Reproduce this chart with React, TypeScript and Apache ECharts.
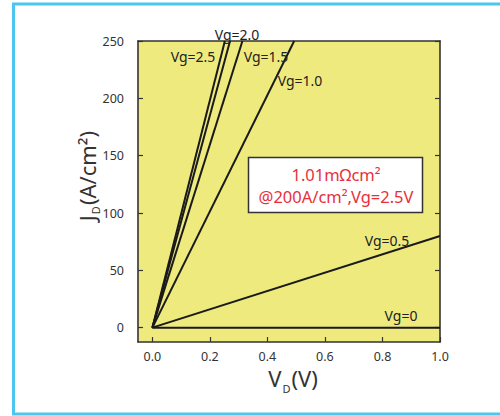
import React, { useEffect, useRef } from 'react';
import * as echarts from 'echarts';

// ---- data ----
const seriesNames = ['Vg=0', 'Vg=0.5', 'Vg=1.0', 'Vg=1.5', 'Vg=2.0', 'Vg=2.5'];
const vdStart = [0, 0, 0, 0, 0, 0];
const jdStart = [0, 0, 0, 0, 0, 0];
const vdEnd = [1.0, 1.0, 0.493, 0.313, 0.27, 0.252];
const jdEnd = [0, 80, 250, 250, 250, 250];
const xTicks = [0, 0.2, 0.4, 0.6, 0.8, 1.0];
const yTicks = [0, 50, 100, 150, 200, 250];
const annotationLines = ['1.01mΩcm²', '@200A/cm²,Vg=2.5V'];

const FONT = '"Noto Sans", sans-serif';
const AXIS_COLOR = '#333333';

export default function App() {
  const ref = useRef<HTMLDivElement>(null);

  useEffect(() => {
    if (!ref.current) return;
    const chart = echarts.init(ref.current, undefined, { renderer: 'svg' });

    const labelPos: Record<string, [number, number]> = {
      'Vg=0': [401, 315],
      'Vg=0.5': [387, 240],
      'Vg=1.0': [300, 80],
      'Vg=1.5': [266, 56],
      'Vg=2.0': [237, 34],
      'Vg=2.5': [193, 56],
    };

    const series = seriesNames.map((name, i) => ({
      name,
      type: 'line',
      data: [
        [vdStart[i], jdStart[i]],
        [vdEnd[i], jdEnd[i]],
      ],
      symbol: 'none',
      showSymbol: false,
      silent: true,
      clip: true,
      lineStyle: { color: '#1a1a1a', width: 2 },
      z: 3,
    }));

    const vgTexts = seriesNames.map((name) => ({
      type: 'text',
      x: labelPos[name][0],
      y: labelPos[name][1],
      z: 100,
      style: {
        text: name,
        fill: '#222',
        font: `14px ${FONT}`,
        align: 'center',
        verticalAlign: 'middle',
      },
    }));

    const option: any = {
      animation: false,
      backgroundColor: '#ffffff',
      grid: {
        left: 138,
        right: 60,
        top: 41,
        bottom: 74,
        show: true,
        backgroundColor: '#efea7e',
        borderColor: AXIS_COLOR,
        borderWidth: 0,
      },
      xAxis: [
        {
          type: 'value',
          min: -0.05,
          max: 1.0,
          position: 'bottom',
          axisLine: { show: true, onZero: false, lineStyle: { color: AXIS_COLOR, width: 1.6 } },
          axisTick: {
            show: true,
            inside: true,
            length: 5,
            customValues: xTicks,
            lineStyle: { color: AXIS_COLOR, width: 1.2 },
          },
          axisLabel: {
            show: true,
            customValues: xTicks,
            formatter: (v: number) => v.toFixed(1),
            color: AXIS_COLOR,
            fontFamily: FONT,
            fontSize: 12.5,
            margin: 8,
          },
          splitLine: { show: false },
        },
        {
          type: 'value',
          min: -0.05,
          max: 1.0,
          position: 'top',
          axisLine: { show: true, onZero: false, lineStyle: { color: AXIS_COLOR, width: 1.6 } },
          axisTick: { show: false },
          axisLabel: { show: false },
          splitLine: { show: false },
        },
      ],
      yAxis: [
        {
          type: 'value',
          min: -12.5,
          max: 250,
          position: 'left',
          axisLine: { show: true, onZero: false, lineStyle: { color: AXIS_COLOR, width: 1.6 } },
          axisTick: {
            show: true,
            inside: true,
            length: 5,
            customValues: yTicks,
            lineStyle: { color: AXIS_COLOR, width: 1.2 },
          },
          axisLabel: {
            show: true,
            customValues: yTicks,
            color: AXIS_COLOR,
            fontFamily: FONT,
            fontSize: 12.5,
            margin: 14,
          },
          splitLine: { show: false },
        },
        {
          type: 'value',
          min: -12.5,
          max: 250,
          position: 'right',
          axisLine: { show: true, onZero: false, lineStyle: { color: AXIS_COLOR, width: 1.6 } },
          axisTick: {
            show: true,
            inside: true,
            length: 5,
            customValues: yTicks,
            lineStyle: { color: AXIS_COLOR, width: 1.2 },
          },
          axisLabel: { show: false },
          splitLine: { show: false },
        },
      ],
      series,
      graphic: [
        // light-blue frame
        {
          type: 'rect',
          z: 100,
          shape: { x: 13.5, y: 4, width: 510, height: 410 },
          style: { fill: 'none', stroke: '#4cc6ee', lineWidth: 3 },
        },
        // annotation box
        {
          type: 'rect',
          z: 100,
          shape: { x: 248.5, y: 157.5, width: 174, height: 55 },
          style: { fill: '#ffffff', stroke: '#333333', lineWidth: 1.5 },
        },
        {
          type: 'text',
          z: 101,
          x: 336,
          y: 174,
          style: {
            text: annotationLines[0],
            fill: '#e8303a',
            font: `16.5px ${FONT}`,
            align: 'center',
            verticalAlign: 'middle',
          },
        },
        {
          type: 'text',
          z: 101,
          x: 336,
          y: 196,
          style: {
            text: annotationLines[1],
            fill: '#e8303a',
            font: `16.5px ${FONT}`,
            align: 'center',
            verticalAlign: 'middle',
          },
        },
        ...vgTexts,
        // x axis name V_D(V)
        {
          type: 'text',
          z: 100,
          x: 293,
          y: 378,
          style: {
            text: '{a|V}{b|D}{a|(V)}',
            align: 'center',
            verticalAlign: 'middle',
            rich: {
              a: { fontSize: 22, fontFamily: FONT, fill: '#333', color: '#333' },
              b: { fontSize: 11, fontFamily: FONT, fill: '#333', color: '#333', padding: [20, 1, 0, 1] },
            },
          },
        },
        // y axis name J_D(A/cm2)
        {
          type: 'text',
          z: 100,
          x: 87,
          y: 176,
          rotation: Math.PI / 2,
          style: {
            text: '{a|J}{b|D}{a|(A/cm²)}',
            align: 'center',
            verticalAlign: 'middle',
            rich: {
              a: { fontSize: 22, fontFamily: FONT, fill: '#333', color: '#333' },
              b: { fontSize: 11, fontFamily: FONT, fill: '#333', color: '#333', padding: [17, 1, 0, 1] },
            },
          },
        },
      ],
    };

    chart.setOption(option);
    return () => {
      chart.dispose();
    };
  }, []);

  return (
    <div
      ref={ref}
      style={{ position: 'fixed', left: 0, top: 0, width: 500, height: 416, background: '#fff' }}
    />
  );
}
